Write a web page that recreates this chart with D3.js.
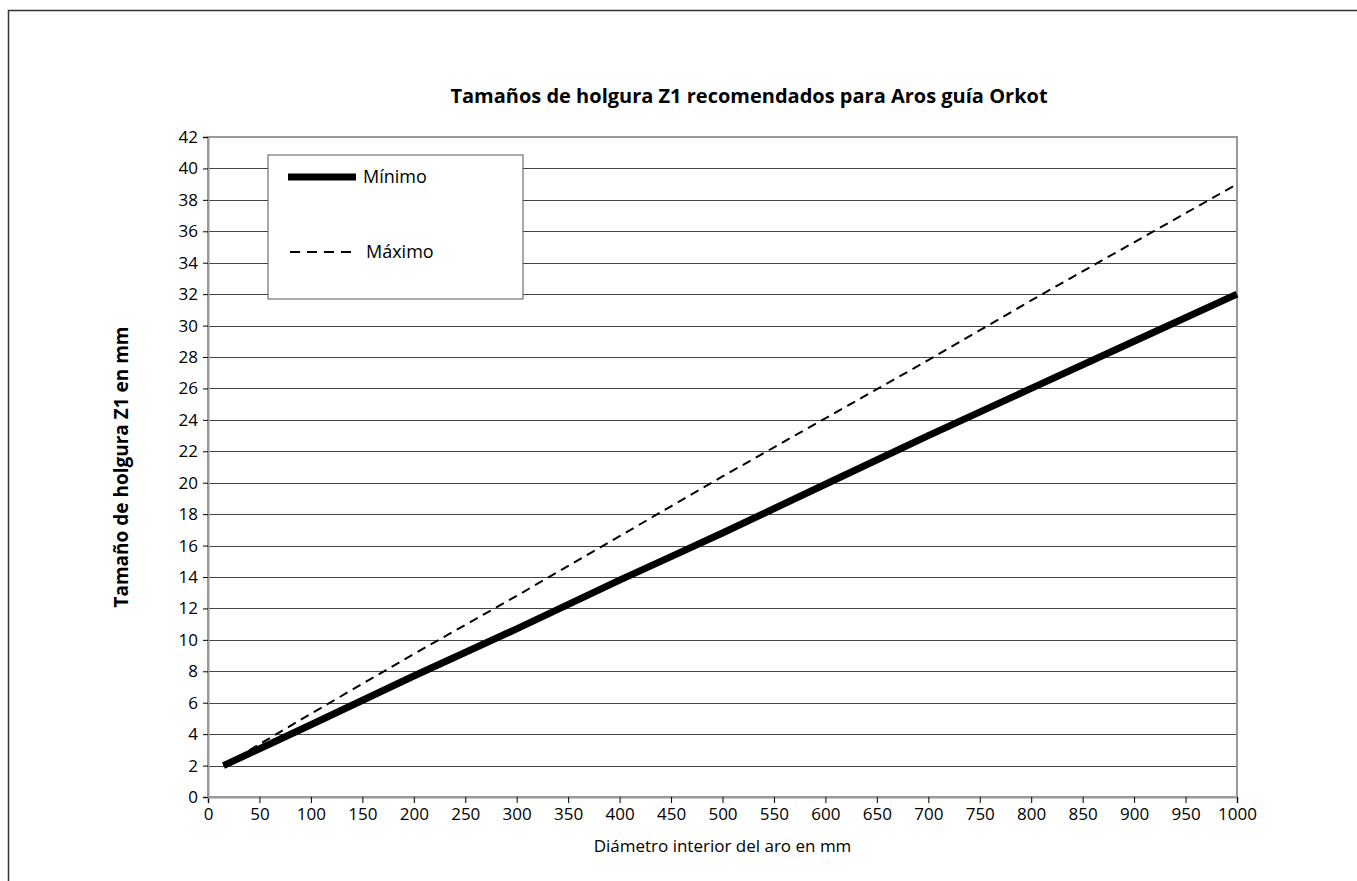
<!DOCTYPE html>
<html lang="es">
<head>
<meta charset="UTF-8">
<title>Tamaños de holgura Z1</title>
<style>
  body { margin: 0; background: #fff; }
  svg text { font-family: "Open Sans", "DejaVu Sans", sans-serif; fill: #000; }
</style>
<script src="https://d3js.org/d3.v7.min.js"></script>
</head>
<body>
<div id="chart"></div>
<script>
// data
const diametro = [15, 100, 200, 300, 400, 450, 500, 600, 700, 800, 900, 1000]
const minimo   = [2, 4.6, 7.7, 10.7, 13.8, 15.3, 16.8, 19.9, 23, 26, 29, 32]
const maximo   = [2, 5.3, 9.1, 12.8, 16.6, 18.5, 20.4, 24.1, 27.8, 31.6, 35.3, 39]
const xTicks = d3.range(0, 1001, 50)
const yTicks = d3.range(0, 43, 2)

const W = 1357, H = 881
const margin = {top: 137, right: 120, bottom: 84, left: 208}
const width = W - margin.left - margin.right
const height = H - margin.top - margin.bottom

const svg = d3.select("#chart").append("svg")
  .attr("width", W).attr("height", H)

// outer frame (only left and top visible)
svg.append("path")
  .attr("d", `M8.5,${H} V10.5 H${W}`)
  .attr("fill", "none").attr("stroke", "#333").attr("stroke-width", 1.5)

const g = svg.append("g").attr("transform", `translate(${margin.left},${margin.top})`)

const x = d3.scaleLinear().domain([0, 1000]).range([0, width])
const y = d3.scaleLinear().domain([0, 42]).range([height, 0])

// gridlines
g.selectAll("line.grid").data(yTicks.slice(1, -1)).join("line")
  .attr("class", "grid")
  .attr("x1", 0).attr("x2", width)
  .attr("y1", d => Math.round(y(d)) + 0.5).attr("y2", d => Math.round(y(d)) + 0.5)
  .attr("stroke", "#444").attr("stroke-width", 1)

// plot border
g.append("rect").attr("x", 0).attr("y", 0).attr("width", width).attr("height", height)
  .attr("fill", "none").attr("stroke", "#999").attr("stroke-width", 2)

// axes
const xAxis = g.append("g").attr("transform", `translate(0,${height})`)
  .call(d3.axisBottom(x).tickValues(xTicks).tickSize(6).tickPadding(5).tickFormat(d3.format("d")))
xAxis.select(".domain").attr("stroke", "#999").attr("stroke-width", 2)
xAxis.selectAll("text").style("font-size", "17px")

const yAxis = g.append("g")
  .call(d3.axisLeft(y).tickValues(yTicks).tickSize(5).tickPadding(5).tickFormat(d3.format("d")))
yAxis.select(".domain").attr("stroke", "#999").attr("stroke-width", 2)
yAxis.selectAll("text").style("font-size", "17px")

// series
const line = d3.line().x(d => x(d[0])).y(d => y(d[1]))
g.append("path").datum(diametro.map((d, i) => [d, maximo[i]]))
  .attr("d", line).attr("fill", "none").attr("stroke", "#000")
  .attr("stroke-width", 2).attr("stroke-dasharray", "9,6")
g.append("path").datum(diametro.map((d, i) => [d, minimo[i]]))
  .attr("d", line).attr("fill", "none").attr("stroke", "#000")
  .attr("stroke-width", 7)

// legend
const lg = svg.append("g").attr("transform", "translate(268,155)")
lg.append("rect").attr("width", 255).attr("height", 144)
  .attr("fill", "#fff").attr("stroke", "#555").attr("stroke-width", 1)
lg.append("line").attr("x1", 20).attr("x2", 88).attr("y1", 22).attr("y2", 22)
  .attr("stroke", "#000").attr("stroke-width", 7)
lg.append("text").attr("x", 95).attr("y", 28).style("font-size", "18px").text("Mínimo")
lg.append("line").attr("x1", 22).attr("x2", 90).attr("y1", 97).attr("y2", 97)
  .attr("stroke", "#000").attr("stroke-width", 2).attr("stroke-dasharray", "10,7")
lg.append("text").attr("x", 98).attr("y", 103).style("font-size", "18px").text("Máximo")

// titles
svg.append("text").attr("x", 749).attr("y", 103)
  .attr("text-anchor", "middle").style("font-size", "20px").style("font-weight", "bold")
  .text("Tamaños de holgura Z1 recomendados para Aros guía Orkot")
svg.append("text").attr("x", margin.left + width / 2).attr("y", 852)
  .attr("text-anchor", "middle").style("font-size", "17px")
  .text("Diámetro interior del aro en mm")
svg.append("text")
  .attr("transform", `translate(128,${margin.top + height / 2}) rotate(-90)`)
  .attr("text-anchor", "middle").style("font-size", "19px").style("font-weight", "bold")
  .text("Tamaño de holgura Z1 en mm")
</script>
</body>
</html>
